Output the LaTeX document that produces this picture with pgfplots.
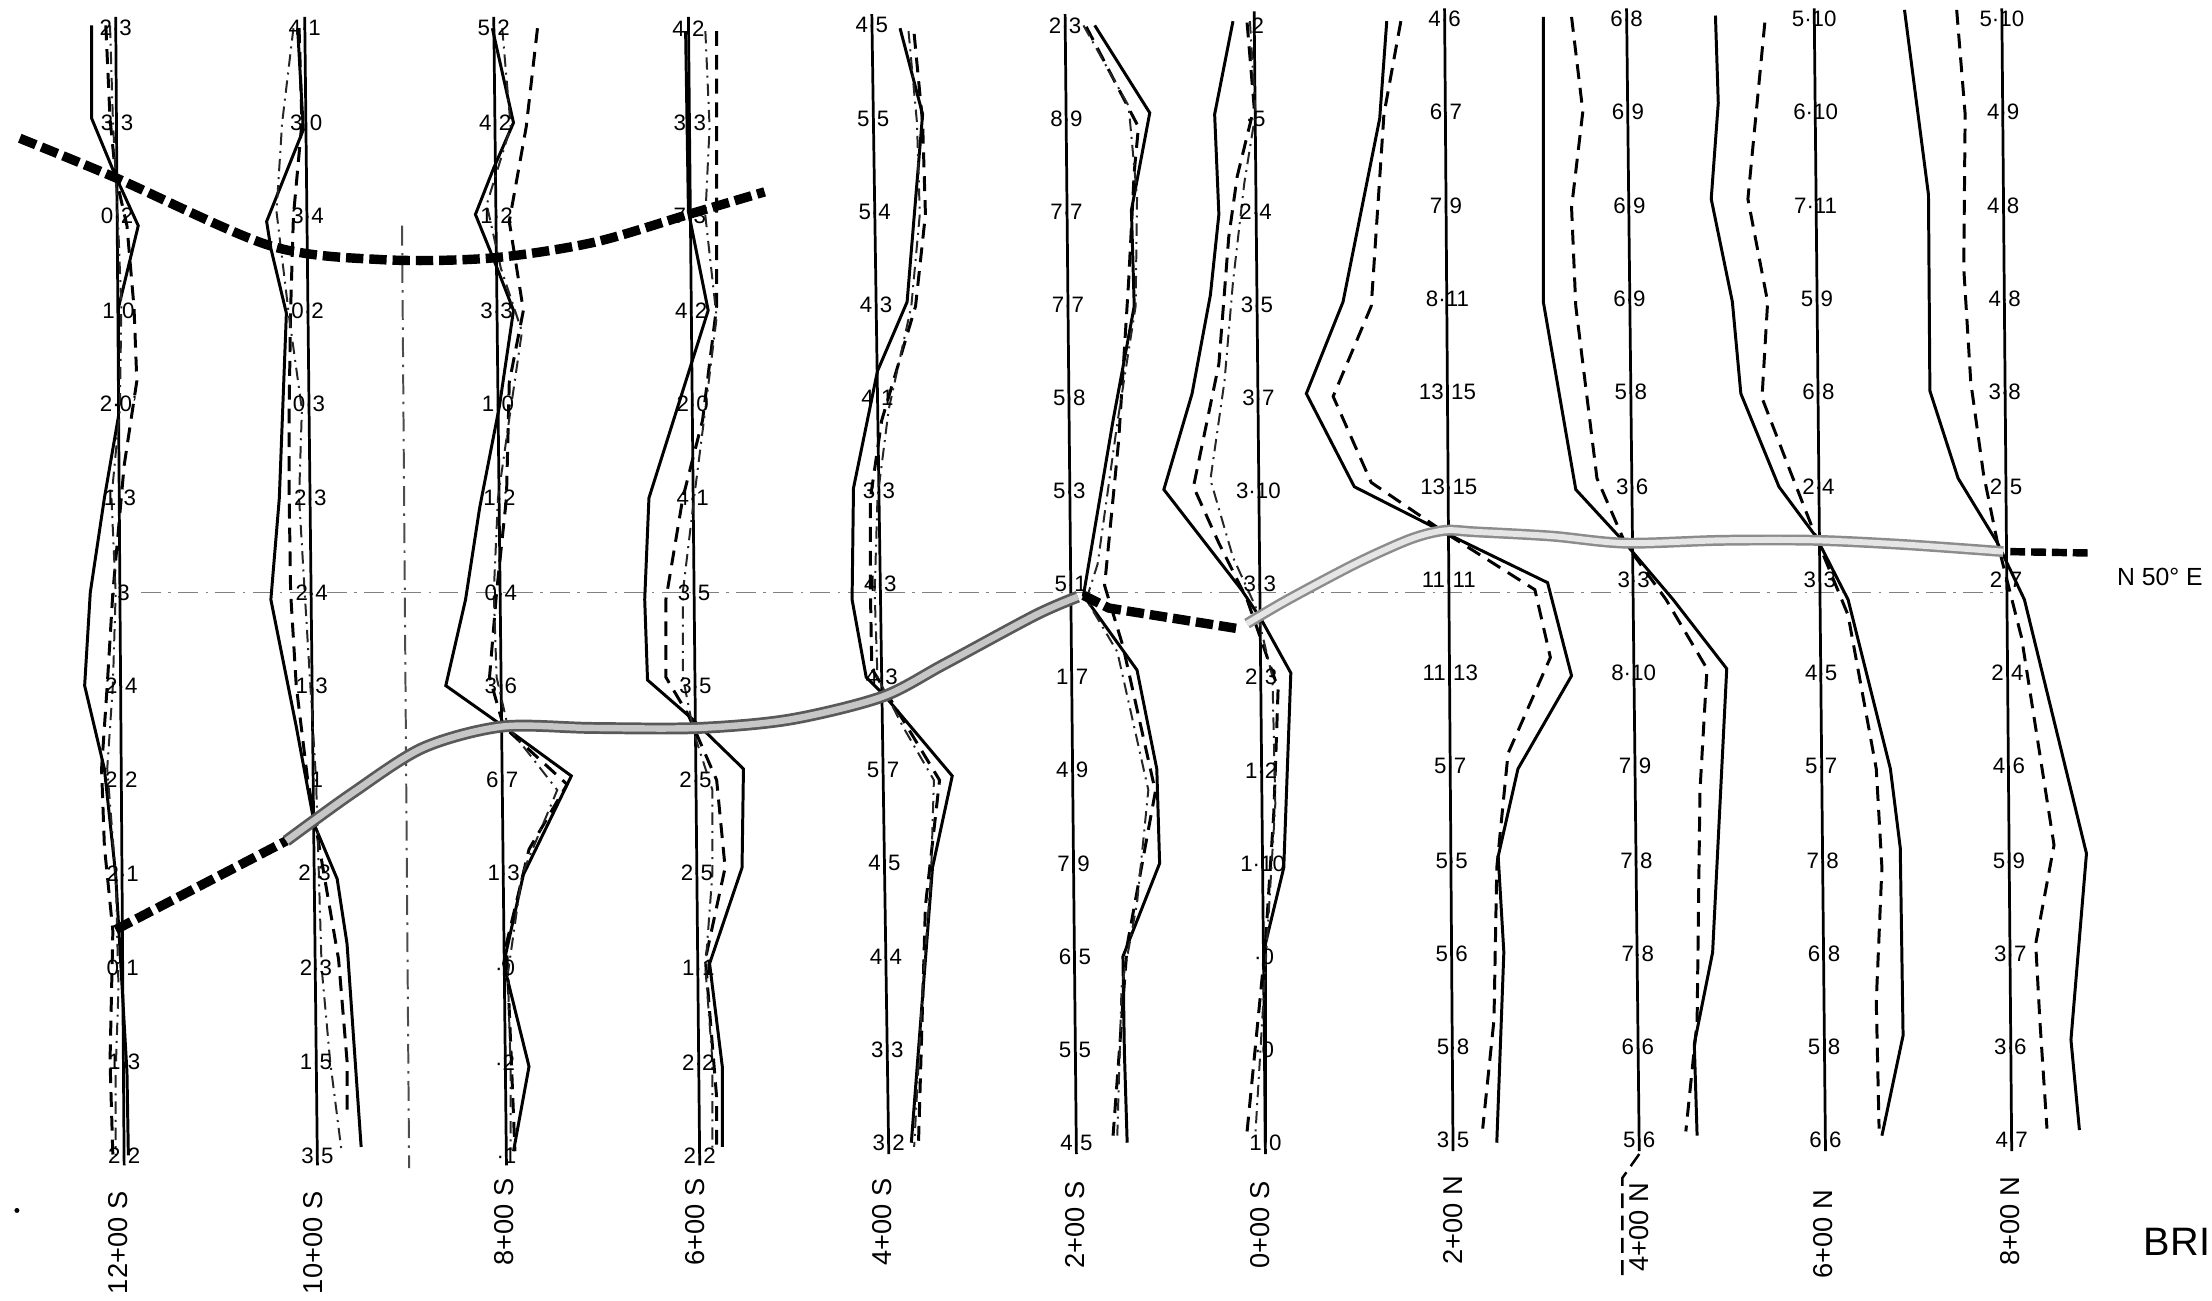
\documentclass[border=0pt]{standalone}
\usepackage{pgfplots}
\pgfplotsset{compat=1.18}
\usepackage{fontspec}
\setmainfont{Liberation Sans}
\pgfplotsset{
  sol/.style={black, line width=0.6pt, no marks},
  dsh/.style={black, line width=0.6pt, dash pattern=on 3pt off 1.8pt, no marks},
  ddt/.style={black!85, line width=0.4pt, dash pattern=on 2.5pt off 1.2pt on 0.4pt off 1.2pt, no marks},
  ctr/.style={black, line width=0.55pt, no marks},
  lbl/.style={draw=none, no marks, point meta=explicit symbolic, nodes near coords,
    every node near coord/.append style={font=\fontsize{4.5}{5}\selectfont, inner sep=0pt, anchor=center}},
  conductor/.style={black, line width=1.9pt, dash pattern=on 3.5pt off 1.2pt, no marks},
}
\begin{document}
\begin{tikzpicture}
\begin{axis}[name=ax, width=15.68cm, height=9.22cm, scale only axis,
  xmin=0, xmax=1568, ymin=0, ymax=922, y dir=reverse, hide axis, clip=false]

% reference lines
\addplot[gray, line width=0.35pt, dash pattern=on 4pt off 1.5pt on 0.5pt off 1.5pt, no marks] coordinates {(100,420) (1420,420)};
\addplot[black!70, line width=0.4pt, dash pattern=on 4pt off 1.5pt on 0.5pt off 1.5pt, no marks] coordinates {(285,160) (290,828)};
\addplot[black, line width=0.5pt, dash pattern=on 3pt off 1.5pt, no marks] coordinates {(1162,818) (1150,835) (1150,905)};

% centre lines
\addplot[ctr] coordinates {(82,12) (88,826)};
\addplot[ctr] coordinates {(216,12) (225,826)};
\addplot[ctr] coordinates {(350,12) (359,826)};
\addplot[ctr] coordinates {(488,12) (496,826)};
\addplot[ctr] coordinates {(618,10) (630,818)};
\addplot[ctr] coordinates {(755,10) (763,818)};
\addplot[ctr] coordinates {(889,8) (897,818)};
\addplot[ctr] coordinates {(1024,6) (1030,816)};
\addplot[ctr] coordinates {(1153,6) (1162,816)};
\addplot[ctr] coordinates {(1286,6) (1294,816)};
\addplot[ctr] coordinates {(1419,6) (1426,816)};

% 12+00S
\addplot[sol] coordinates {(65,18)(65,84)(82,125)(98,160)(84,218)(84,295)(74,353)(64,420)(60,486)(74,545)(82,620)(86,690)(90,760)(91,819)};
\addplot[dsh] coordinates {(75,18)(78,84)(82,125)(90,160)(95,218)(97,270)(88,330)(80,420)(76,486)(72,545)(74,600)(80,660)(78,752)(80,819)};
\addplot[ddt] coordinates {(78,18)(80,84)(82,125)(84,165)(86,218)(85,290)(79,353)(82,420)(80,486)(76,545)(82,620)(84,700)(82,760)(82,819)};
% 10+00S
\addplot[sol] coordinates {(211,20)(215,92)(189,157)(192,176)(203,222)(198,353)(192,425)(210,515)(223,585)(239,623)(246,669)(256,813)};
\addplot[dsh] coordinates {(212,20)(214,87)(208,153)(206,220)(205,287)(205,353)(206,420)(210,486)(218,552)(228,610)(240,680)(246,752)(246,790)};
\addplot[ddt] coordinates {(208,20)(200,87)(196,150)(205,225)(214,290)(212,353)(216,420)(220,486)(224,552)(226,619)(228,686)(234,752)(242,815)};
% 8+00S
\addplot[sol] coordinates {(349,20)(364,87)(350,119)(337,152)(350,184)(364,220)(354,288)(340,360)(330,425)(316,486)(357,515)(405,550)(371,620)(357,683)(375,756)(364,816)};
\addplot[dsh] coordinates {(381,20)(373,90)(361,157)(371,220)(361,271)(359,353)(352,420)(347,480)(357,515)(402,556)(375,602)(359,669)(362,740)(365,816)};
\addplot[ddt] coordinates {(356,20)(362,90)(345,145)(355,190)(370,235)(362,290)(353,353)(350,420)(352,480)(360,515)(395,560)(370,620)(360,690)(362,760)(362,815)};
% 6+00S
\addplot[sol] coordinates {(486,22)(488,150)(502,220)(460,353)(457,425)(459,482)(490,509)(527,545)(526,615)(503,683)(512,756)(512,813)};
\addplot[dsh] coordinates {(508,22)(508,217)(498,298)(484,353)(472,425)(472,480)(488,507)(508,553)(514,615)(500,680)(508,778)(508,813)};
\addplot[ddt] coordinates {(500,22)(503,90)(500,153)(508,225)(500,290)(492,353)(484,420)(484,480)(492,520)(505,560)(505,619)(500,686)(505,752)(505,815)};
% 4+00S
\addplot[sol] coordinates {(638,20)(654,81)(643,214)(622,263)(605,346)(604,425)(614,480)(627,493)(675,550)(661,615)(646,810)};
\addplot[dsh] coordinates {(648,24)(654,87)(656,152)(649,217)(625,298)(617,353)(617,420)(618,474)(646,520)(666,553)(656,642)(651,813)};
\addplot[ddt] coordinates {(644,22)(650,87)(652,152)(646,217)(630,290)(622,353)(620,420)(622,480)(640,515)(662,553)(660,620)(654,700)(648,813)};
% 2+00S
\addplot[sol] coordinates {(776,18)(815,80)(802,149)(804,217)(789,298)(768,422)(806,475)(820,545)(822,612)(796,678)(797,745)(799,810)};
\addplot[dsh] coordinates {(770,19)(807,90)(804,122)(800,200)(793,312)(783,415)(786,425)(796,458)(819,561)(799,670)(789,805)};
\addplot[ddt] coordinates {(768,18)(800,75)(806,140)(805,217)(792,300)(778,400)(770,425)(792,462)(814,560)(806,640)(795,700)(792,805)};
% 0+00S
\addplot[sol] coordinates {(874,15)(861,81)(864,152)(858,209)(845,279)(825,347)(880,418)(894,439)(915,477)(910,615)(897,669)(897,810)};
\addplot[dsh] coordinates {(884,16)(889,76)(877,125)(871,168)(864,258)(846,345)(864,385)(884,425)(906,488)(903,575)(897,669)(884,802)};
\addplot[ddt] coordinates {(886,15)(890,80)(882,130)(874,200)(868,270)(858,340)(874,395)(890,430)(902,480)(904,570)(898,669)(890,802)};
% 2+00N
\addplot[sol] coordinates {(983,15)(978,84)(952,214)(926,279)(960,345)(1025,378)(1097,413)(1114,479)(1076,545)(1062,607)(1066,675)(1061,810)};
\addplot[dsh] coordinates {(993,15)(981,81)(972,217)(945,281)(972,342)(1025,378)(1088,418)(1099,466)(1069,534)(1061,615)(1059,723)(1051,800)};
% 4+00N
\addplot[sol] coordinates {(1094,12)(1094,214)(1117,347)(1152,385)(1186,425)(1224,474)(1214,675)(1201,740)(1203,805)};
\addplot[dsh] coordinates {(1114,12)(1122,79)(1114,147)(1117,217)(1132,339)(1152,385)(1181,425)(1210,474)(1205,561)(1203,724)(1195,802)};
% 6+00N
\addplot[sol] coordinates {(1216,11)(1218,73)(1213,141)(1228,214)(1234,279)(1261,345)(1287,380)(1310,425)(1340,545)(1347,601)(1349,734)(1334,805)};
\addplot[dsh] coordinates {(1251,16)(1239,141)(1253,214)(1249,282)(1269,334)(1287,380)(1310,436)(1330,545)(1334,615)(1330,710)(1332,800)};
% 8+00N
\addplot[sol] coordinates {(1350,7)(1367,138)(1368,277)(1388,339)(1416,385)(1435,425)(1479,605)(1468,737)(1474,801)};
\addplot[dsh] coordinates {(1387,7)(1393,81)(1392,190)(1397,271)(1406,336)(1416,385)(1433,452)(1456,599)(1443,669)(1446,724)(1451,800)};

% conductor axes
\addplot[conductor, smooth] coordinates {(14,98)(82,126)(191,174)(270,184)(347,183)(420,172)(488,152)(542,136)};
\addplot[conductor] coordinates {(82,659)(203,596)};
\addplot[black!65, line width=2.4pt, smooth, no marks] coordinates {(203,596)(250,562)(300,530)(356,515)(420,516)(495,516)(560,510)(625,494)(669,471)(734,436)(764,423)};
\addplot[gray!45, line width=1.3pt, smooth, no marks] coordinates {(203,596)(250,562)(300,530)(356,515)(420,516)(495,516)(560,510)(625,494)(669,471)(734,436)(764,423)};
\addplot[conductor] coordinates {(768,422)(786,431)(830,438)(880,446)};
\addplot[black!45, line width=2.2pt, smooth, no marks] coordinates {(884,442)(913,425)(962,399)(1000,382)(1024,376)(1046,377)(1100,380)(1152,385)(1220,383)(1287,383)(1350,386)(1420,391)};
\addplot[gray!20, line width=1.2pt, smooth, no marks] coordinates {(884,442)(913,425)(962,399)(1000,382)(1024,376)(1046,377)(1100,380)(1152,385)(1220,383)(1287,383)(1350,386)(1420,391)};
\addplot[black, line width=1.5pt, dash pattern=on 3pt off 1.2pt, no marks] coordinates {(1425,391)(1482,392)};

% station values
\addplot[lbl] coordinates {(82,20)[2·3] (83,87)[3·3] (83,153)[0·2] (84,220)[1·0] (84,286)[2·0'] (85,353)[1·3] (85,420)[·3] (86,486)[2·4] (86,553)[2·2] (87,619)[2·1] (87,686)[0·1] (88,753)[1·3] (88,819)[2·2]};
\addplot[lbl] coordinates {(216,20)[4·1] (217,87)[3·0] (218,153)[3·4] (218,220)[0·2] (219,286)[0·3] (220,353)[2·3] (221,420)[2·4] (221,486)[1·3] (222,553)[·1] (223,619)[2·3] (224,686)[2·3] (224,753)[1·5] (225,819)[3·5]};
\addplot[lbl] coordinates {(350,20)[5·2] (351,87)[4·2] (352,153)[1·2] (352,220)[3·3] (353,286)[1·0] (354,353)[1·2] (355,420)[0·4] (355,486)[3·6] (356,553)[6·7] (357,619)[1·3] (358,686)[·0] (358,753)[·2] (359,819)[·1]};
\addplot[lbl] coordinates {(488,20)[4·2] (489,87)[3·3] (489,153)[7·3] (490,220)[4·2] (491,286)[2·0] (491,353)[4·1] (492,420)[3·5] (493,486)[3·5] (493,553)[2·5] (494,619)[2·5] (495,686)[1·1] (495,753)[2·2] (496,819)[2·2]};
\addplot[lbl] coordinates {(618,18)[4·5] (619,84)[5·5] (620,150)[5·4] (621,216)[4·3] (622,282)[4·1] (623,348)[3·3] (624,414)[4·3] (625,480)[4·3] (626,546)[5·7] (627,612)[4·5] (628,678)[4·4] (629,744)[3·3] (630,810)[3·2]};
\addplot[lbl] coordinates {(755,18)[2·3] (756,84)[8·9] (756,150)[7·7] (757,216)[7·7] (758,282)[5·8] (758,348)[5·3] (759,414)[5·1] (760,480)[1·7] (760,546)[4·9] (761,612)[7·9] (762,678)[6·5] (762,744)[5·5] (763,810)[4·5]};
\addplot[lbl] coordinates {(889,18)[·2] (890,84)[·5] (890,150)[2·4] (891,216)[3·5] (892,282)[3·7] (892,348)[3·10] (893,414)[3·3] (894,480)[2·3] (894,546)[1·2] (895,612)[1·10] (896,678)[·0] (896,744)[·0] (897,810)[1·0]};
\addplot[lbl] coordinates {(1024,13)[4·6] (1025,79)[6·7] (1025,146)[7·9] (1026,212)[8·11] (1026,278)[13·15] (1027,345)[13·15] (1027,411)[11·11] (1028,477)[11·13] (1028,543)[5·7] (1029,610)[5·5] (1029,676)[5·6] (1030,742)[5·8] (1030,808)[3·5]};
\addplot[lbl] coordinates {(1153,13)[6·8] (1154,79)[6·9] (1155,146)[6·9] (1155,212)[6·9] (1156,278)[5·8] (1157,345)[3·6] (1158,411)[3·3] (1158,477)[8·10] (1159,543)[7·9] (1160,610)[7·8] (1161,676)[7·8] (1161,742)[6·6] (1162,808)[5·6]};
\addplot[lbl] coordinates {(1286,13)[5·10] (1287,79)[6·10] (1287,146)[7·11] (1288,212)[5·9] (1289,278)[6·8] (1289,345)[2·4] (1290,411)[3·3] (1291,477)[4·5] (1291,543)[5·7] (1292,610)[7·8] (1293,676)[6·8] (1293,742)[5·8] (1294,808)[6·6]};
\addplot[lbl] coordinates {(1419,13)[5·10] (1420,79)[4·9] (1420,146)[4·8] (1421,212)[4·8] (1421,278)[3·8] (1422,345)[2·5] (1422,411)[2·7] (1423,477)[2·4] (1424,543)[4·6] (1424,610)[5·9] (1425,676)[3·7] (1425,742)[3·6] (1426,808)[4·7]};

% station names
\begin{scope}[every node/.style={rotate=90, anchor=west, inner sep=0pt, font=\fontsize{5.5}{6}\selectfont}]
\node at (axis cs:84,918) {12+00 S};
\node at (axis cs:222,918) {10+00 S};
\node at (axis cs:357,898) {8+00 S};
\node at (axis cs:493,898) {6+00 S};
\node at (axis cs:625,898) {4+00 S};
\node at (axis cs:762,900) {2+00 S};
\node at (axis cs:893,900) {0+00 S};
\node at (axis cs:1030,897) {2+00 N};
\node at (axis cs:1162,902) {4+00 N};
\node at (axis cs:1292,907) {6+00 N};
\node at (axis cs:1425,898) {8+00 N};
\end{scope}
\node[anchor=west, inner sep=0pt, font=\fontsize{5}{6}\selectfont] at (axis cs:1500,409) {N 50° E};
\node[anchor=west, inner sep=0pt, font=\fontsize{8}{9}\selectfont] at (axis cs:1519,880) {BRI};
\fill (axis cs:12,858) circle (0.5pt);
\end{axis}
\pgfresetboundingbox
\useasboundingbox (ax.south west) rectangle (ax.north east);
\end{tikzpicture}
\end{document}
